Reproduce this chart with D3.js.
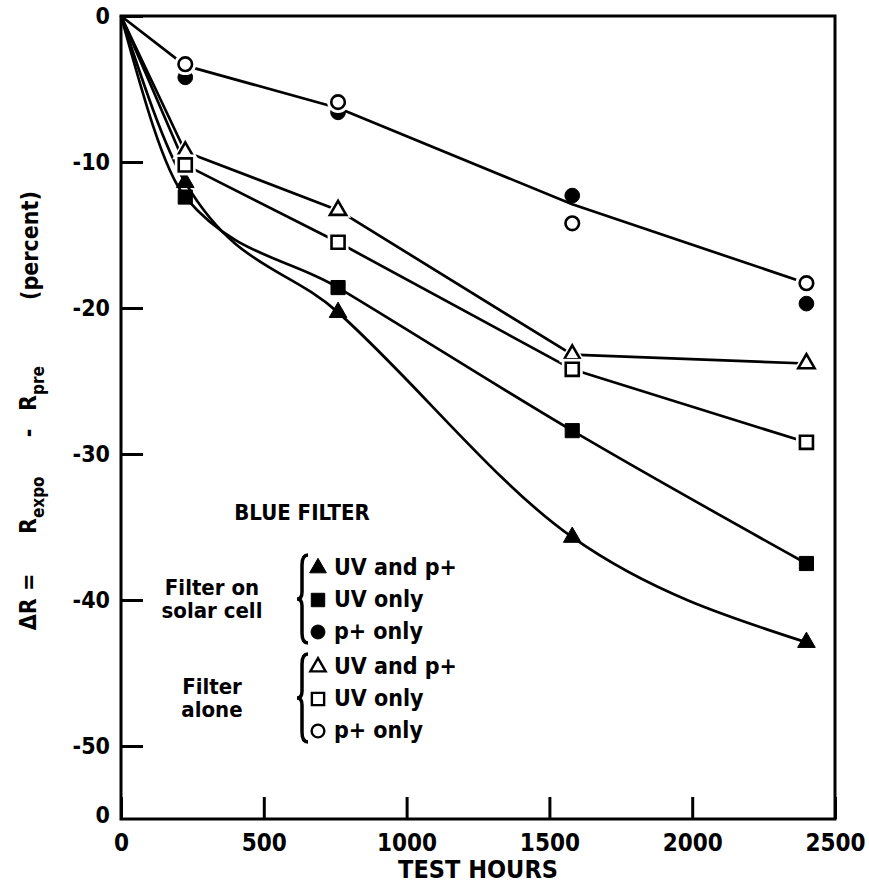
<!DOCTYPE html>
<html>
<head>
<meta charset="utf-8">
<script src="https://cdn.jsdelivr.net/npm/d3@7"></script>
<style>
  html, body { margin: 0; padding: 0; background: #fff; }
  svg { display: block; }
  text { font-family: "DejaVu Sans Condensed", "DejaVu Sans", sans-serif; font-weight: bold; fill: #000; }
</style>
</head>
<body>
<script>
// Exposure time (hours) at which reflectance was measured
const hours = [0, 225, 760, 1580, 2400];

// Change in reflectance, percent — filter bonded to a solar cell
const cellUVandP = [0, -11.4, -20.3, -35.7, -42.9];
const cellUVonly = [0, -12.4, -18.6, -28.4, -37.5];
const cellPonly  = [0, -4.2, -6.6, -12.3, -19.7];

// Change in reflectance, percent — filter by itself
const aloneUVandP = [0, -9.3, -13.3, -23.2, -23.8];
const aloneUVonly = [0, -10.2, -15.5, -24.2, -29.2];
const alonePonly  = [0, -3.3, -5.9, -14.2, -18.3];

// Single faired curve drawn through both proton-only sets
const pOnlyCurve = [0, -3.4, -6.3, -12.9, -18.3];

// Axis ticks
const xTicks = [0, 500, 1000, 1500, 2000, 2500];
const yTicks = [0, -10, -20, -30, -40, -50];

// Legend rows
const legendGroups = [
  { title: ["Filter on", "solar cell"], rows: [
    { label: "UV and p+", shape: "triangle", filled: true },
    { label: "UV only",   shape: "square",   filled: true },
    { label: "p+ only",   shape: "circle",   filled: true } ] },
  { title: ["Filter", "alone"], rows: [
    { label: "UV and p+", shape: "triangle", filled: false },
    { label: "UV only",   shape: "square",   filled: false },
    { label: "p+ only",   shape: "circle",   filled: false } ] }
];

const W = 869, H = 884;
const svg = d3.select("body").append("svg").attr("width", W).attr("height", H);

const x = d3.scaleLinear().domain([0, 2500]).range([121, 835]);
const y = d3.scaleLinear().domain([-55, 0]).range([819, 16]);

const symbolType = { triangle: d3.symbolTriangle, square: d3.symbolSquare, circle: d3.symbolCircle };
const symbolSize = { triangle: 135, square: 200, circle: 170 };

// Curves: the solar-cell curves are faired smoothly, the rest run point to point
const makeLine = curve => d3.line()
  .x((d, i) => x(hours[i]))
  .y(d => y(d))
  .curve(curve);

const curves = [
  { values: cellUVandP, curve: d3.curveMonotoneX },
  { values: cellUVonly, curve: d3.curveMonotoneX },
  { values: aloneUVandP, curve: d3.curveLinear },
  { values: aloneUVonly, curve: d3.curveLinear },
  { values: pOnlyCurve, curve: d3.curveLinear }
];
svg.append("g").selectAll("path").data(curves).join("path")
  .attr("d", c => makeLine(c.curve)(c.values))
  .attr("fill", "none")
  .attr("stroke", "#000")
  .attr("stroke-width", 2.7)
  .attr("stroke-linejoin", "round");

// Data markers (origin point carries no marker)
const markerSets = [
  { values: cellUVandP, shape: "triangle", filled: true },
  { values: cellUVonly, shape: "square", filled: true },
  { values: cellPonly, shape: "circle", filled: true },
  { values: aloneUVandP, shape: "triangle", filled: false },
  { values: aloneUVonly, shape: "square", filled: false },
  { values: alonePonly, shape: "circle", filled: false }
];

const markers = svg.append("g");
markerSets.forEach(set => {
  const pts = set.values.map((v, i) => ({ h: hours[i], v })).filter(p => p.h > 0);
  const g = markers.append("g");
  if (!set.filled) {
    g.selectAll("path.halo").data(pts).join("path")
      .attr("class", "halo")
      .attr("transform", p => `translate(${x(p.h)},${y(p.v)})`)
      .attr("d", d3.symbol(symbolType[set.shape], symbolSize[set.shape] * 2.2))
      .attr("fill", "#fff");
  }
  g.selectAll("path.mark").data(pts).join("path")
    .attr("class", "mark")
    .attr("transform", p => `translate(${x(p.h)},${y(p.v)})`)
    .attr("d", d3.symbol(symbolType[set.shape], set.filled ? symbolSize[set.shape] : symbolSize[set.shape] * 0.85))
    .attr("fill", set.filled ? "#000" : "#fff")
    .attr("stroke", "#000")
    .attr("stroke-width", set.filled ? 1 : 2.6);
});

// Frame
svg.append("rect")
  .attr("x", x(0)).attr("y", y(0))
  .attr("width", x(2500) - x(0)).attr("height", y(-55) - y(0))
  .attr("fill", "none").attr("stroke", "#000").attr("stroke-width", 3);

// Y axis
const yAxis = svg.append("g")
  .attr("transform", `translate(${x(0)},0)`)
  .call(d3.axisLeft(y).tickValues(yTicks).tickSize(-22).tickPadding(11).tickFormat(d => String(d)));
yAxis.select(".domain").remove();
yAxis.selectAll(".tick line").attr("stroke", "#000").attr("stroke-width", 3);
yAxis.selectAll(".tick text").style("font-size", "23px");

// X axis
const xAxis = svg.append("g")
  .attr("transform", `translate(0,${y(-55)})`)
  .call(d3.axisBottom(x).tickValues(xTicks).tickSize(-22).tickPadding(15).tickFormat(d => String(d)));
xAxis.select(".domain").remove();
xAxis.selectAll(".tick line").attr("stroke", "#000").attr("stroke-width", 3);
xAxis.selectAll(".tick text").style("font-size", "24px");

// Origin label beside the lower-left corner
svg.append("text")
  .attr("x", x(0) - 11).attr("y", y(-55) - 3)
  .attr("text-anchor", "end").attr("dominant-baseline", "middle")
  .style("font-size", "23px").text("0");

// X title
svg.append("text")
  .attr("x", 478).attr("y", 878)
  .attr("text-anchor", "middle")
  .style("font-size", "25px")
  .text("TEST HOURS");

// Y title, read bottom to top
const yt = svg.append("g").attr("transform", "translate(0,0) rotate(-90)");
yt.append("text").attr("x", -602).attr("y", 36).attr("text-anchor", "middle")
  .style("font-size", "23px").text("ΔR =");
const r1 = yt.append("text").attr("x", -534).attr("y", 36).style("font-size", "23px");
r1.append("tspan").text("R");
r1.append("tspan").attr("dy", 8).style("font-size", "17px").text("expo");
yt.append("text").attr("x", -433).attr("y", 36).attr("text-anchor", "middle")
  .style("font-size", "23px").text("-");
const r2 = yt.append("text").attr("x", -411).attr("y", 36).style("font-size", "23px");
r2.append("tspan").text("R");
r2.append("tspan").attr("dy", 8).style("font-size", "17px").text("pre");
yt.append("text").attr("x", -300).attr("y", 38)
  .style("font-size", "23px").text("(percent)");

// Legend
svg.append("text")
  .attr("x", 302).attr("y", 520)
  .attr("text-anchor", "middle")
  .style("font-size", "22px")
  .text("BLUE FILTER");

const rowStep = 32;
const groupTop = [568, 667];
legendGroups.forEach((grp, gi) => {
  const top = groupTop[gi];
  const mid = top + rowStep;
  const g = svg.append("g");
  // group title, two lines centred on the group
  grp.title.forEach((t, ti) => {
    g.append("text")
      .attr("x", 212).attr("y", mid - 11 + ti * 23)
      .attr("text-anchor", "middle").attr("dominant-baseline", "middle")
      .style("font-size", "22px").style("font-weight", "600")
      .text(t);
  });
  // brace
  const bx = 302, y0 = top - 13, y1 = top + 2 * rowStep + 11;
  const ym = (y0 + y1) / 2;
  g.append("path")
    .attr("d", `M${bx + 6},${y0} Q${bx},${y0} ${bx},${y0 + 10} L${bx},${ym - 7} Q${bx},${ym} ${bx - 5},${ym} Q${bx},${ym} ${bx},${ym + 7} L${bx},${y1 - 10} Q${bx},${y1} ${bx + 6},${y1}`)
    .attr("fill", "none").attr("stroke", "#000").attr("stroke-width", 3.5);
  grp.rows.forEach((r, ri) => {
    const ry = top + ri * rowStep;
    g.append("path")
      .attr("transform", `translate(318,${ry})`)
      .attr("d", d3.symbol(symbolType[r.shape], r.filled ? symbolSize[r.shape] * 0.9 : symbolSize[r.shape] * 0.75))
      .attr("fill", r.filled ? "#000" : "#fff")
      .attr("stroke", "#000").attr("stroke-width", r.filled ? 1 : 2.4);
    g.append("text")
      .attr("x", 334).attr("y", ry)
      .attr("dominant-baseline", "middle")
      .style("font-size", "23px").style("font-weight", "600")
      .text(r.label);
  });
});
</script>
</body>
</html>
